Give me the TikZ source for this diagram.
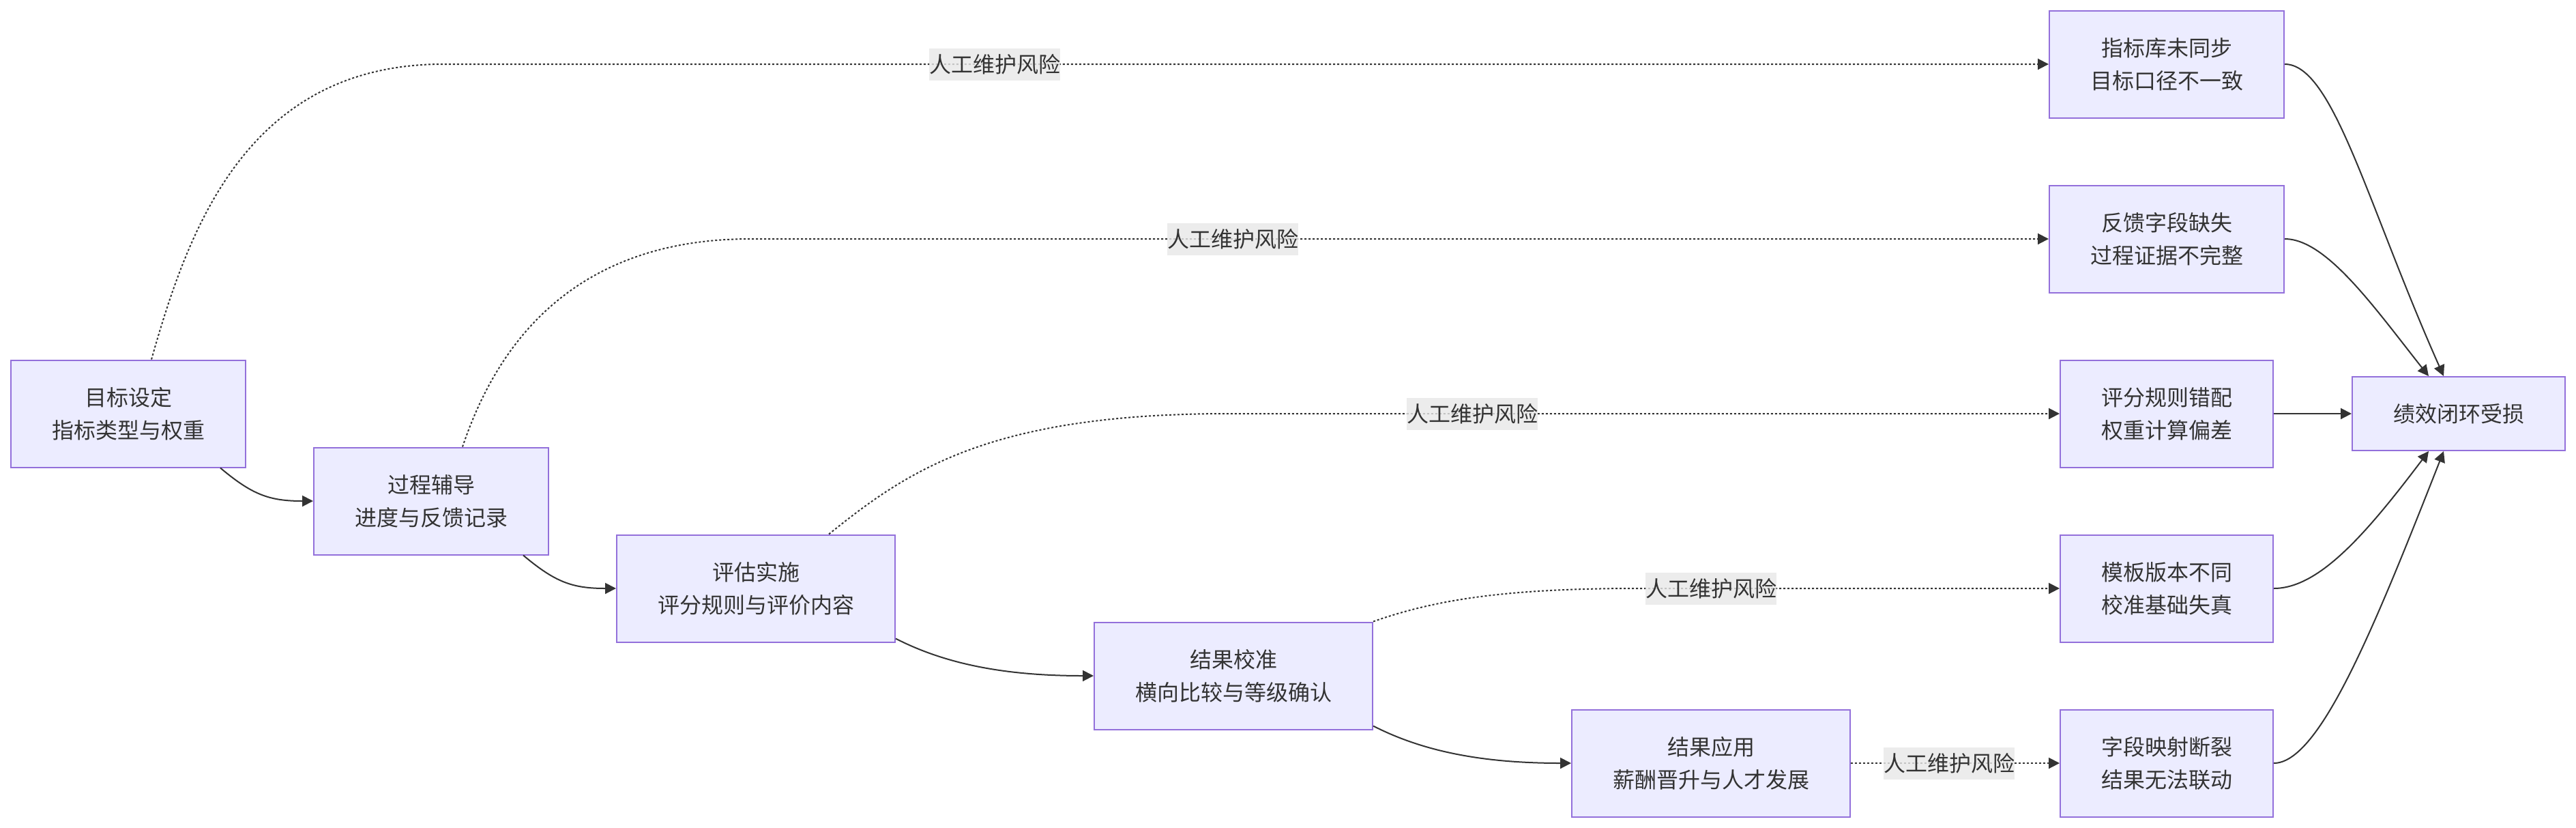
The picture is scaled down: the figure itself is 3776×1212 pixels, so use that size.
\documentclass[tikz,border=0pt]{standalone}
\usepackage{fontspec}
\setmainfont{Noto Sans CJK SC}
\usetikzlibrary{arrows.meta,calc}
\definecolor{nodefill}{HTML}{ECECFF}
\definecolor{nodeborder}{HTML}{9370DB}
\definecolor{edgec}{HTML}{333333}
\definecolor{textc}{HTML}{333333}
\definecolor{lblbg}{HTML}{E8E8E8}
\begin{document}
\begin{tikzpicture}[x=0.5pt,y=-0.5pt,
  box/.style={draw=nodeborder, fill=nodefill, line width=1pt, inner sep=0pt, align=center, text=textc, font=\fontsize{16pt}{24pt}\selectfont, minimum height=78.5pt},
  wseven/.style={box, minimum width=172pt},
  wnine/.style={box, minimum width=204pt},
  wsix/.style={box, minimum width=156pt},
  flow/.style={draw=edgec, line width=1pt, -{Triangle[length=8pt,width=8pt]}},
  risk/.style={flow, dash pattern=on 1.5pt off 1.5pt},
  lbl/.style={fill=lblbg, fill opacity=0.8, text opacity=1, text=textc, inner sep=0pt, minimum width=96pt, minimum height=23.5pt, font=\fontsize{16pt}{24pt}\selectfont}
]
\fill[white] (0,0) rectangle (3776,1212);
\useasboundingbox (0,0) rectangle (3776,1212);

\node[wseven] (A) at (188,606) {目标设定\\指标类型与权重};
\node[wseven] (B) at (632,734) {过程辅导\\进度与反馈记录};
\node[wnine] (C) at (1108,862) {评估实施\\评分规则与评价内容};
\node[wnine] (D) at (1808,990) {结果校准\\横向比较与等级确认};
\node[wnine] (E) at (2508,1118) {结果应用\\薪酬晋升与人才发展};
\node[wseven] (R1) at (3176,94) {指标库未同步\\目标口径不一致};
\node[wseven] (R2) at (3176,350) {反馈字段缺失\\过程证据不完整};
\node[wsix] (R3) at (3176,606) {评分规则错配\\权重计算偏差};
\node[wsix] (R4) at (3176,862) {模板版本不同\\校准基础失真};
\node[wsix] (R5) at (3176,1118) {字段映射断裂\\结果无法联动};
\node[wsix, minimum height=54pt] (Z) at (3604,606) {绩效闭环受损};

% dotted risk edges
\draw[risk] ($(A.north)+(34,0)$) .. controls (275,340) and (360,94) .. (650,94) -- (R1.west);
\draw[risk] ($(B.north)+(46,0)$) .. controls (720,530) and (820,350) .. (1100,350) -- (R2.west);
\draw[risk] ($(C.north)+(107,0)$) .. controls (1330,690) and (1450,606) .. (1800,606) -- (R3.west);
\draw[risk] (D.north east) .. controls (2100,880) and (2200,862) .. (2400,862) -- (R4.west);
\draw[risk] (E.east) -- (R5.west);

% main flow
\draw[flow] ($(A.south)+(135,0)$) .. controls (370,725) and (395,734) .. (B.west);
\draw[flow] ($(B.south)+(135,0)$) .. controls (814,853) and (839,862) .. (C.west);
\draw[flow] ($(C.south east)+(0,-6)$) .. controls (1390,975) and (1480,990) .. (D.west);
\draw[flow] ($(D.south east)+(0,-6)$) .. controls (2090,1103) and (2180,1118) .. (E.west);

% to result
\draw[flow] (R1.east) .. controls (3420,94) and (3470,300) .. ($(Z.north)+(-22,0)$);
\draw[flow] (R2.east) .. controls (3410,350) and (3480,450) .. ($(Z.north)+(-44,0)$);
\draw[flow] (R3.east) -- (Z.west);
\draw[flow] (R4.east) .. controls (3400,862) and (3470,780) .. ($(Z.south)+(-44,0)$);
\draw[flow] (R5.east) .. controls (3400,1118) and (3480,920) .. ($(Z.south)+(-22,0)$);

% labels
\node[lbl] (L1) at (1458,94) {人工维护风险};
\node[lbl] (L2) at (1807,350) {人工维护风险};
\node[lbl] (L3) at (2158,606) {人工维护风险};
\node[lbl] (L4) at (2508,862) {人工维护风险};
\node[lbl] (L5) at (2857,1118) {人工维护风险};
\end{tikzpicture}
\end{document}
